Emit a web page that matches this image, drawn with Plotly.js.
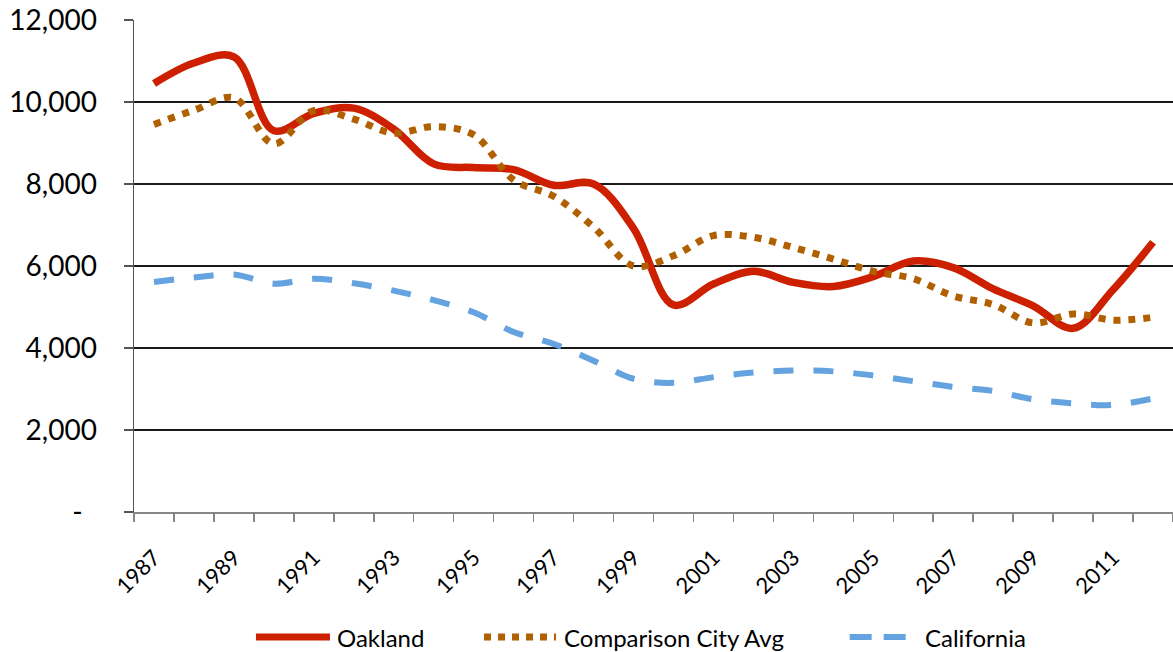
<!DOCTYPE html>
<html>
<head>
<meta charset="utf-8">
<script src="https://cdn.plot.ly/plotly-3.0.1.min.js"></script>
<style>html,body{margin:0;padding:0;background:#fff;}#chart{width:1173px;height:652px;}</style>
</head>
<body>
<div id="chart"></div>
<script>
const years = [1987,1988,1989,1990,1991,1992,1993,1994,1995,1996,1997,1998,1999,2000,2001,2002,2003,2004,2005,2006,2007,2008,2009,2010,2011,2012];
const oakland = [10450,10950,11100,9300,9720,9850,9340,8490,8400,8350,7970,8000,6920,5050,5560,5870,5600,5500,5740,6120,5960,5440,5030,4480,5420,6580];
const comparisonAvg = [9450,9800,10100,8980,9790,9580,9240,9400,9200,8100,7700,6950,6000,6250,6740,6700,6450,6170,5870,5690,5270,5060,4610,4830,4680,4750];
const california = [5610,5720,5790,5570,5690,5580,5400,5170,4870,4390,4100,3690,3250,3150,3290,3400,3450,3430,3330,3190,3050,2950,2750,2650,2610,2770];
const seriesNames = ['Oakland', 'Comparison City Avg', 'California'];
const yTickVals = [0,2000,4000,6000,8000,10000,12000];
const yTickText = ['-\u00a0\u00a0','2,000','4,000','6,000','8,000','10,000','12,000'];
const xTickVals = [1987,1989,1991,1993,1995,1997,1999,2001,2003,2005,2007,2009,2011];
const xTickText = xTickVals.map(String);

const styles = [
  {color: '#CC2000', width: 7.5, dash: 'solid'},
  {color: '#B06000', width: 7, dash: '7px,8px'},
  {color: '#64A3DF', width: 6, dash: '20px,20px'}
];
const seriesValues = [oakland, comparisonAvg, california];

const traces = seriesValues.map((vals, i) => ({
  x: years, y: vals, name: seriesNames[i], type: 'scatter', mode: 'lines', showlegend: false,
  line: {color: styles[i].color, width: styles[i].width, dash: styles[i].dash, shape: 'spline', smoothing: 1}
}));

// manual legend (paper coordinates)
const legY = -0.2541;
const legendSamples = [
  {x0: 0.1174, x1: 0.1886, tx: 0.1935, dash: 'solid', w: 7},
  {x0: 0.3369, x1: 0.4062, tx: 0.4119, dash: '7px,7px', w: 7},
  {x0: 0.6888, x1: 0.7470, tx: 0.7594, dash: '22px,12px', w: 6}
];
const shapes = legendSamples.map((s, i) => ({
  type: 'line', xref: 'paper', yref: 'paper', x0: s.x0, x1: s.x1, y0: legY, y1: legY,
  line: {color: styles[i].color, width: s.w, dash: s.dash}
}));
const annotations = legendSamples.map((s, i) => ({
  xref: 'paper', yref: 'paper', x: s.tx, y: legY, xanchor: 'left', yanchor: 'middle',
  text: seriesNames[i], showarrow: false, font: {size: 24, color: '#000'}
}));

const layout = {
  width: 1173, height: 652,
  margin: {l: 134, r: 0, t: 20, b: 140},
  paper_bgcolor: '#ffffff', plot_bgcolor: '#ffffff',
  font: {family: 'Lato, "Open Sans", sans-serif', color: '#000'},
  showlegend: false,
  shapes: shapes, annotations: annotations,
  xaxis: {range: [1986.5, 2012.5], tickmode: 'array', tickvals: xTickVals, ticktext: xTickText,
          tickangle: -45, tickfont: {size: 22, color: '#000'}, ticks: '', showgrid: false,
          zeroline: false, showline: true, linecolor: '#868686', linewidth: 2,
          ticklabelstandoff: 22,
          minor: {ticks: 'outside', tick0: 1986.5, dtick: 1, ticklen: 8, tickcolor: '#868686', tickwidth: 1.5, showgrid: false}},
  yaxis: {range: [0, 12000], tickmode: 'array', tickvals: yTickVals, ticktext: yTickText,
          tickfont: {size: 28, color: '#000'}, ticks: 'outside', ticklen: 9, tickcolor: '#555', tickwidth: 1.2,
          showgrid: true, gridcolor: '#1a1a1a', gridwidth: 1.2, zeroline: false,
          showline: true, linecolor: '#555', linewidth: 1.5, ticklabelstandoff: 21}
};

Plotly.newPlot('chart', traces, layout, {displayModeBar: false, staticPlot: true});
</script>
</body>
</html>
